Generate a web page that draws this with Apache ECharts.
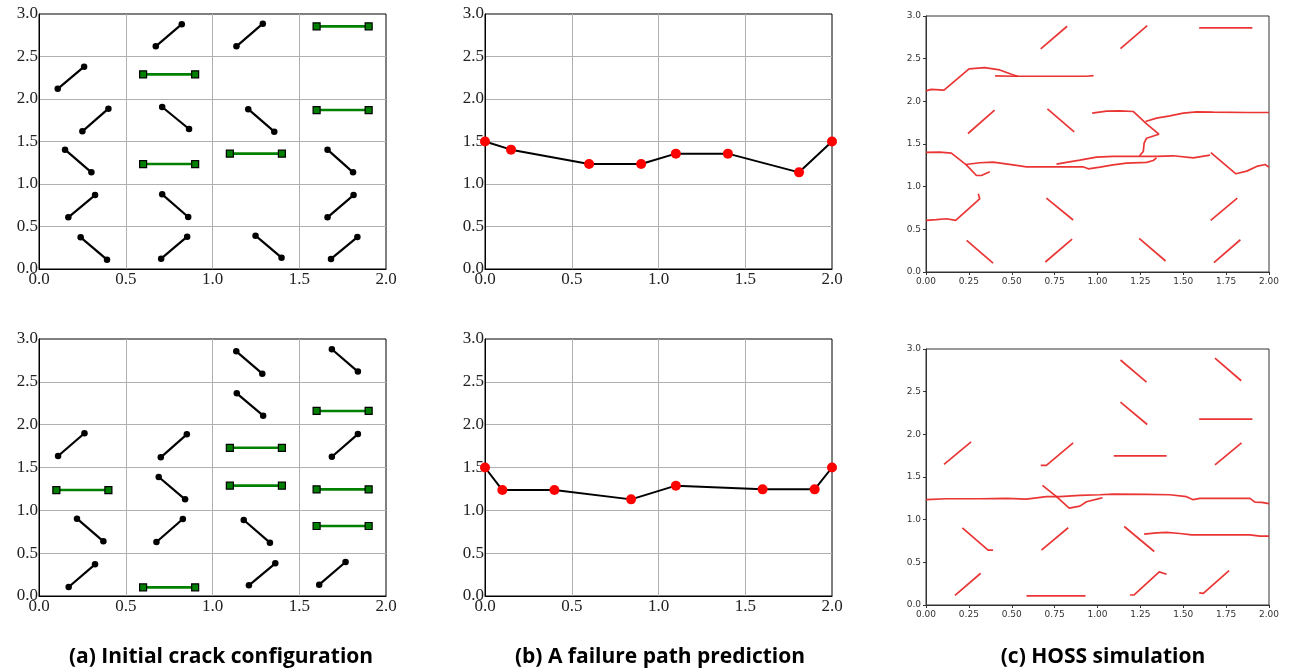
<!DOCTYPE html>
<html>
<head>
<meta charset="utf-8">
<script src="https://cdn.jsdelivr.net/npm/echarts@6/dist/echarts.min.js"></script>
<style>
html,body{margin:0;padding:0;background:#fff;}
#chart{width:1292px;height:672px;}
</style>
</head>
<body>
<div id="chart"></div>
<script>
// ---------- DATA ----------
const xTicksAB = [0, 0.5, 1.0, 1.5, 2.0];
const yTicksAB = [0, 0.5, 1.0, 1.5, 2.0, 2.5, 3.0];
const captions = ['(a) Initial crack configuration', '(b) A failure path prediction', '(c) HOSS simulation'];

// cracks: [x1, y1, x2, y2]
const topBlackCracks = [
  [0.108,2.12,0.26,2.38],[0.673,2.62,0.823,2.88],[1.138,2.62,1.29,2.886],
  [0.25,1.62,0.40,1.886],[0.71,1.906,0.865,1.647],[1.206,1.88,1.356,1.616],
  [0.15,1.404,0.302,1.137],[1.663,1.404,1.81,1.137],
  [0.169,0.608,0.323,0.87],[0.71,0.878,0.86,0.612],[1.663,0.608,1.813,0.87],
  [0.24,0.373,0.392,0.11],[0.704,0.122,0.854,0.38],[1.248,0.392,1.398,0.133],[1.683,0.118,1.835,0.376]
];
const topGreenCracks = [
  [1.6,2.855,1.9,2.855],[0.6,2.29,0.9,2.29],[1.6,1.87,1.9,1.87],[0.6,1.235,0.9,1.235],[1.1,1.357,1.4,1.357]
];
const bottomBlackCracks = [
  [1.137,2.856,1.287,2.595],[1.688,2.88,1.838,2.62],[1.14,2.366,1.292,2.105],
  [0.11,1.634,0.262,1.9],[0.702,1.619,0.852,1.887],[1.688,1.626,1.838,1.89],
  [0.69,1.389,0.842,1.128],[0.219,0.903,0.371,0.638],[0.677,0.63,0.829,0.899],
  [1.18,0.887,1.331,0.623],[0.171,0.105,0.323,0.37],[1.21,0.125,1.362,0.381],[1.615,0.132,1.767,0.397]
];
const bottomGreenCracks = [
  [1.6,2.16,1.9,2.16],[1.1,1.73,1.4,1.73],[0.1,1.237,0.4,1.237],[1.1,1.288,1.4,1.288],
  [1.6,1.245,1.9,1.245],[1.6,0.817,1.9,0.817],[0.6,0.101,0.9,0.101]
];

// predicted failure paths
const pathTopX = [0, 0.15, 0.6, 0.9, 1.1, 1.4, 1.81, 2.0];
const pathTopY = [1.5, 1.404, 1.235, 1.235, 1.357, 1.357, 1.137, 1.5];
const pathBottomX = [0, 0.1, 0.4, 0.842, 1.1, 1.6, 1.9, 2.0];
const pathBottomY = [1.5, 1.237, 1.237, 1.128, 1.288, 1.245, 1.245, 1.5];

// HOSS simulated fracture traces (polylines of [x, y])
const hossTop = [
  [[0.669,2.614],[0.823,2.88]],
  [[1.134,2.618],[1.29,2.887]],
  [[1.593,2.86],[1.903,2.86]],
  [[0.245,1.623],[0.40,1.896]],
  [[0.708,1.912],[0.864,1.643]],
  [[0.702,0.866],[0.858,0.609]],
  [[1.66,0.605],[1.815,0.866]],
  [[0.237,0.371],[0.391,0.105]],
  [[0.696,0.117],[0.852,0.386]],
  [[1.243,0.394],[1.397,0.129]],
  [[1.679,0.109],[1.833,0.378]],
  [[0,2.123],[0.03,2.14],[0.041,2.125],[0.105,2.131],[0.251,2.38],[0.342,2.396],[0.43,2.368],[0.498,2.318],[0.537,2.291]],
  [[0.403,2.298],[0.414,2.282],[0.508,2.294],[0.663,2.294],[0.819,2.294],[0.936,2.294],[0.977,2.302]],
  [[0.969,1.861],[1.053,1.885],[1.13,1.888],[1.208,1.881],[1.286,1.736],[1.358,1.615],[1.286,1.568],[1.272,1.51],[1.267,1.412],[1.245,1.362]],
  [[1.28,1.764],[1.344,1.803],[1.422,1.83],[1.5,1.861],[1.578,1.877],[1.675,1.873],[1.87,1.869],[2.0,1.869]],
  [[0,1.401],[0.08,1.405],[0.148,1.393],[0.235,1.256],[0.294,1.131],[0.323,1.131],[0.372,1.174]],
  [[0.232,1.26],[0.313,1.28],[0.391,1.287],[0.508,1.256],[0.586,1.233],[0.702,1.233],[0.819,1.233],[0.916,1.233],[0.946,1.209],[1.014,1.229],[1.091,1.256],[1.169,1.276],[1.286,1.284],[1.325,1.307],[1.344,1.338]],
  [[0.761,1.264],[0.819,1.284],[0.897,1.311],[0.994,1.346],[1.091,1.354],[1.247,1.354],[1.344,1.354],[1.442,1.362],[1.558,1.338],[1.656,1.369]],
  [[1.661,1.398],[1.807,1.151],[1.87,1.182],[1.928,1.237],[1.977,1.26],[2.0,1.229]],
  [[0,0.605],[0.06,0.613],[0.119,0.624],[0.173,0.605],[0.313,0.858],[0.319,0.878],[0.305,0.917]]
];
const hossBottom = [
  [[1.134,2.871],[1.286,2.612]],
  [[1.685,2.894],[1.838,2.628]],
  [[1.134,2.377],[1.29,2.115]],
  [[1.593,2.178],[1.903,2.178]],
  [[0.105,1.649],[0.263,1.911]],
  [[0.669,1.637],[0.702,1.637],[0.858,1.9]],
  [[1.095,1.747],[1.403,1.747]],
  [[1.685,1.641],[1.84,1.9]],
  [[0.212,0.905],[0.362,0.642],[0.391,0.642]],
  [[0.673,0.642],[0.829,0.905]],
  [[1.156,0.92],[1.331,0.627]],
  [[0.169,0.114],[0.319,0.372]],
  [[0.586,0.106],[0.93,0.106]],
  [[1.189,0.117],[1.212,0.117],[1.36,0.388],[1.403,0.36]],
  [[1.593,0.141],[1.617,0.137],[1.767,0.403]],
  [[0,1.234],[0.119,1.245],[0.313,1.245],[0.469,1.249],[0.586,1.241],[0.702,1.269],[0.78,1.269],[0.897,1.284],[1.014,1.292],[1.091,1.3],[1.286,1.296],[1.422,1.292],[1.519,1.269],[1.558,1.234],[1.597,1.249],[1.675,1.249],[1.889,1.249],[1.918,1.206],[1.957,1.202],[2.0,1.187]],
  [[0.679,1.402],[0.761,1.269],[0.835,1.136],[0.897,1.159],[0.936,1.21],[1.014,1.249],[1.029,1.257]],
  [[1.272,0.83],[1.344,0.846],[1.403,0.85],[1.481,0.838],[1.549,0.822],[1.675,0.822],[1.889,0.822],[1.947,0.807],[2.0,0.807]]
];

// ---------- LAYOUT ----------
const panels = [
  {left: 39,  top: 14,  width: 347, height: 255, kind: 'ab'},
  {left: 39,  top: 339, width: 347, height: 257, kind: 'ab'},
  {left: 485, top: 14,  width: 347, height: 255, kind: 'ab'},
  {left: 485, top: 339, width: 347, height: 257, kind: 'ab'},
  {left: 926, top: 16,  width: 343, height: 256, kind: 'c'},
  {left: 926, top: 349, width: 343, height: 256, kind: 'c'}
];

const serif = 'Liberation Serif';
const grids = [], xAxes = [], yAxes = [];
panels.forEach((p, i) => {
  const isC = p.kind === 'c';
  grids.push({
    left: p.left, top: p.top, width: p.width, height: p.height,
    show: true, borderColor: isC ? '#333' : '#000', borderWidth: 1,
    backgroundColor: 'transparent', containLabel: false
  });
  const lab = isC
    ? {fontFamily: 'DejaVu Sans', fontSize: 9, color: '#333'}
    : {fontFamily: serif, fontSize: 17, color: '#222'};
  xAxes.push({
    type: 'value', gridIndex: i, min: 0, max: 2, interval: isC ? 0.25 : 0.5,
    axisLine: {show: true, lineStyle: {color: isC ? '#333' : '#000', width: 1}},
    axisTick: {show: isC, length: 3, lineStyle: {color: '#333'}},
    axisLabel: Object.assign({margin: isC ? 5 : 2, formatter: v => isC ? v.toFixed(2) : v.toFixed(1), showMinLabel: true, showMaxLabel: true}, lab),
    splitLine: {show: !isC, showMinLine: false, showMaxLine: false, lineStyle: {color: '#b0b0b0', width: 1}}
  });
  yAxes.push({
    type: 'value', gridIndex: i, min: 0, max: 3, interval: 0.5,
    axisLine: {show: true, lineStyle: {color: isC ? '#333' : '#000', width: 1}},
    axisTick: {show: isC, length: 3, lineStyle: {color: '#333'}},
    axisLabel: Object.assign({margin: isC ? 5 : 1, formatter: v => v.toFixed(1), showMinLabel: true, showMaxLabel: true}, lab),
    splitLine: {show: !isC, showMinLine: false, showMaxLine: false, lineStyle: {color: '#b0b0b0', width: 1}}
  });
});

const series = [];
function addCracks(list, idx, green) {
  list.forEach(c => {
    series.push({
      type: 'line', xAxisIndex: idx, yAxisIndex: idx, silent: true, animation: false,
      data: [[c[0], c[1]], [c[2], c[3]]],
      symbol: green ? 'rect' : 'circle', symbolSize: green ? 7 : 6.5, showSymbol: true,
      lineStyle: {color: green ? '#008000' : '#000', width: green ? 2.6 : 2.2},
      itemStyle: green ? {color: '#008000', borderColor: '#000', borderWidth: 1.2} : {color: '#000'},
      z: 3
    });
  });
}
addCracks(topBlackCracks, 0, false);
addCracks(topGreenCracks, 0, true);
addCracks(bottomBlackCracks, 1, false);
addCracks(bottomGreenCracks, 1, true);

function addPath(xs, ys, idx) {
  series.push({
    type: 'line', xAxisIndex: idx, yAxisIndex: idx, silent: true, animation: false,
    data: xs.map((x, k) => [x, ys[k]]),
    symbol: 'circle', symbolSize: 10, showSymbol: true,
    lineStyle: {color: '#000', width: 2},
    itemStyle: {color: '#ff0000'},
    z: 3
  });
}
addPath(pathTopX, pathTopY, 2);
addPath(pathBottomX, pathBottomY, 3);

function addHoss(list, idx) {
  list.forEach(pl => {
    series.push({
      type: 'line', xAxisIndex: idx, yAxisIndex: idx, silent: true, animation: false,
      data: pl, showSymbol: false, symbol: 'none',
      lineStyle: {color: 'rgba(232,36,36,0.92)', width: 1.7},
      z: 3
    });
  });
}
addHoss(hossTop, 4);
addHoss(hossBottom, 5);

const capFont = 'bold 21px "Open Sans", Lato, sans-serif';
const capX = [221, 660, 1103];
const graphic = captions.map((t, k) => ({
  type: 'text', x: capX[k], y: 657, silent: true,
  style: {text: t, font: capFont, fill: '#000', textAlign: 'center', textVerticalAlign: 'middle'}
}));

const chart = echarts.init(document.getElementById('chart'), null, {renderer: 'canvas'});
chart.setOption({
  animation: false,
  backgroundColor: '#fff',
  grid: grids, xAxis: xAxes, yAxis: yAxes,
  series: series,
  graphic: graphic
});
</script>
</body>
</html>
